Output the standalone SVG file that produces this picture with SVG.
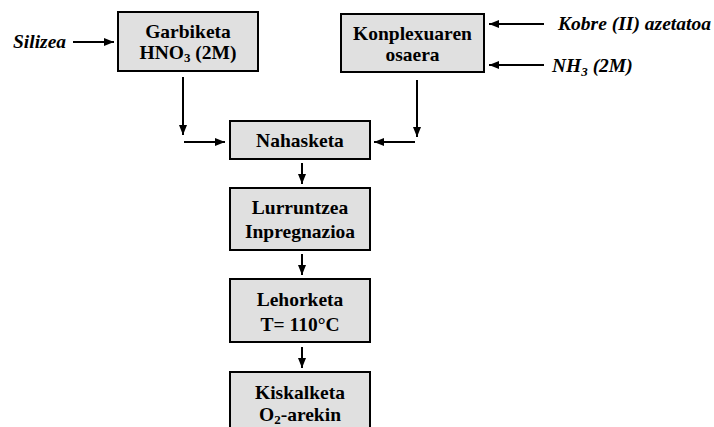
<svg xmlns="http://www.w3.org/2000/svg" width="714" height="427" viewBox="0 0 714 427">
<defs>
<marker id="ah" markerWidth="10" markerHeight="8" refX="10" refY="4" orient="auto" markerUnits="userSpaceOnUse">
<path d="M0,0 L10,4 L0,8 Z" fill="#000"/>
</marker>
<style>
.box{fill:#e0e0e0;stroke:#000;stroke-width:2}
.t{font-family:"Liberation Serif",serif;font-weight:bold;font-size:19.5px;text-anchor:middle;fill:#000}
.l{font-family:"Liberation Serif",serif;font-weight:bold;font-style:italic;font-size:19.5px;fill:#000}
.c{stroke:#000;stroke-width:2;fill:none;marker-end:url(#ah)}
</style>
</defs>
<rect width="714" height="427" fill="#fff"/>
<g id="connectors">
<line class="c" x1="73" y1="42" x2="114" y2="42"/>
<line class="c" x1="183" y1="77" x2="183" y2="135"/>
<line class="c" x1="184" y1="142" x2="225" y2="142"/>
<line class="c" x1="544" y1="24" x2="489" y2="24"/>
<line class="c" x1="544" y1="65" x2="489" y2="65"/>
<line class="c" x1="417" y1="80" x2="417" y2="137"/>
<line class="c" x1="415" y1="142" x2="374" y2="142"/>
<line class="c" x1="302" y1="163" x2="302" y2="184"/>
<line class="c" x1="302" y1="254" x2="302" y2="275"/>
<line class="c" x1="302" y1="347" x2="302" y2="368"/>
</g>
<g id="silizea"><text class="l" x="13" y="48" textLength="53" lengthAdjust="spacingAndGlyphs">Silizea</text></g>
<g id="kobre"><text class="l" x="558" y="30" textLength="153" lengthAdjust="spacingAndGlyphs">Kobre (II) azetatoa</text></g>
<g id="nh3"><text class="l" x="552" y="72">NH<tspan font-size="13" dy="4">3</tspan><tspan dy="-4"> (2M)</tspan></text></g>
<g id="garbiketa">
<rect class="box" x="118" y="12" width="140" height="59"/>
<text class="t" x="188" y="38">Garbiketa</text>
<text class="t" x="188" y="59">HNO<tspan font-size="13" dy="3">3</tspan><tspan dy="-3"> (2M)</tspan></text>
</g>
<g id="konplexuaren">
<rect class="box" x="341" y="14" width="143" height="58"/>
<text class="t" x="412.5" y="40">Konplexuaren</text>
<text class="t" x="412.5" y="61">osaera</text>
</g>
<g id="nahasketa">
<rect class="box" x="230" y="121" width="140" height="38"/>
<text class="t" x="300" y="147">Nahasketa</text>
</g>
<g id="lurruntzea">
<rect class="box" x="230" y="188" width="140" height="62"/>
<text class="t" x="300" y="214">Lurruntzea</text>
<text class="t" x="300" y="238">Inpregnazioa</text>
</g>
<g id="lehorketa">
<rect class="box" x="230" y="279" width="140" height="63"/>
<text class="t" x="300" y="306">Lehorketa</text>
<text class="t" x="300" y="331">T= 110°C</text>
</g>
<g id="kiskalketa">
<rect class="box" x="230" y="372" width="140" height="70"/>
<text class="t" x="300" y="399">Kiskalketa</text>
<text class="t" x="300" y="421">O<tspan font-size="13" dy="3">2</tspan><tspan dy="-3">-arekin</tspan></text>
</g>
</svg>
